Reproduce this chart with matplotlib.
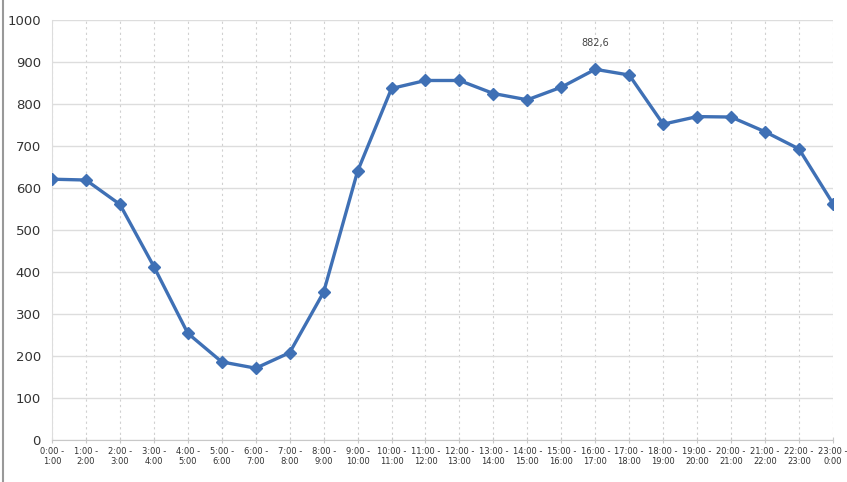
import matplotlib.pyplot as plt
from matplotlib.lines import Line2D

# Intervalles horaires et valeurs
hours = ['0:00 -\n1:00', '1:00 -\n2:00', '2:00 -\n3:00', '3:00 -\n4:00', '4:00 -\n5:00',
         '5:00 -\n6:00', '6:00 -\n7:00', '7:00 -\n8:00', '8:00 -\n9:00', '9:00 -\n10:00',
         '10:00 -\n11:00', '11:00 -\n12:00', '12:00 -\n13:00', '13:00 -\n14:00',
         '14:00 -\n15:00', '15:00 -\n16:00', '16:00 -\n17:00', '17:00 -\n18:00',
         '18:00 -\n19:00', '19:00 -\n20:00', '20:00 -\n21:00', '21:00 -\n22:00',
         '22:00 -\n23:00', '23:00 -\n0:00']
values = [621, 619, 561, 413, 254, 186, 171, 208, 352, 640,
          837, 856, 856, 825, 810, 840, 882.6, 869, 752, 770,
          769, 734, 693, 563]
peak_label = '882,6'
peak_index = 16

fig = plt.figure(figsize=(8.47, 4.82), dpi=100)
ax = fig.add_axes([0.0614, 0.0871, 0.922, 0.8714])

x = list(range(len(values)))
ax.plot(x, values, color='#3F70B5', linewidth=2.4, marker='D', markersize=6,
        markeredgecolor='#3F70B5', markerfacecolor='#3F70B5', zorder=3)

ax.annotate(peak_label, (peak_index, values[peak_index]), xytext=(0, 15),
            textcoords='offset points', ha='center', va='bottom', fontsize=7, color='#444444')

ax.set_xlim(0, 23)
ax.set_ylim(0, 1000)
ax.set_yticks(range(0, 1001, 100))
ax.set_xticks(x)
ax.set_xticklabels(hours, fontsize=6, color='#333333')
ax.tick_params(axis='y', labelsize=9.5, colors='#333333', length=0, pad=8)
ax.tick_params(axis='x', length=4, direction='inout', color='#c8c8c8', pad=3)

ax.grid(axis='y', color='#dddddd', linewidth=1, linestyle='-')
ax.grid(axis='x', color='#d0d0d0', linewidth=0.8, linestyle=(0, (2, 3)))
ax.set_axisbelow(True)

for side in ['top', 'right']:
    ax.spines[side].set_visible(False)
ax.spines['left'].set_color('#dddddd')
ax.spines['bottom'].set_color('#c8c8c8')

# trait vertical gris sur le bord gauche de l'image
fig.add_artist(Line2D([0.004, 0.004], [0, 1], color='#999999', linewidth=1.5,
                      transform=fig.transFigure))

plt.savefig('out.png', dpi=100)
